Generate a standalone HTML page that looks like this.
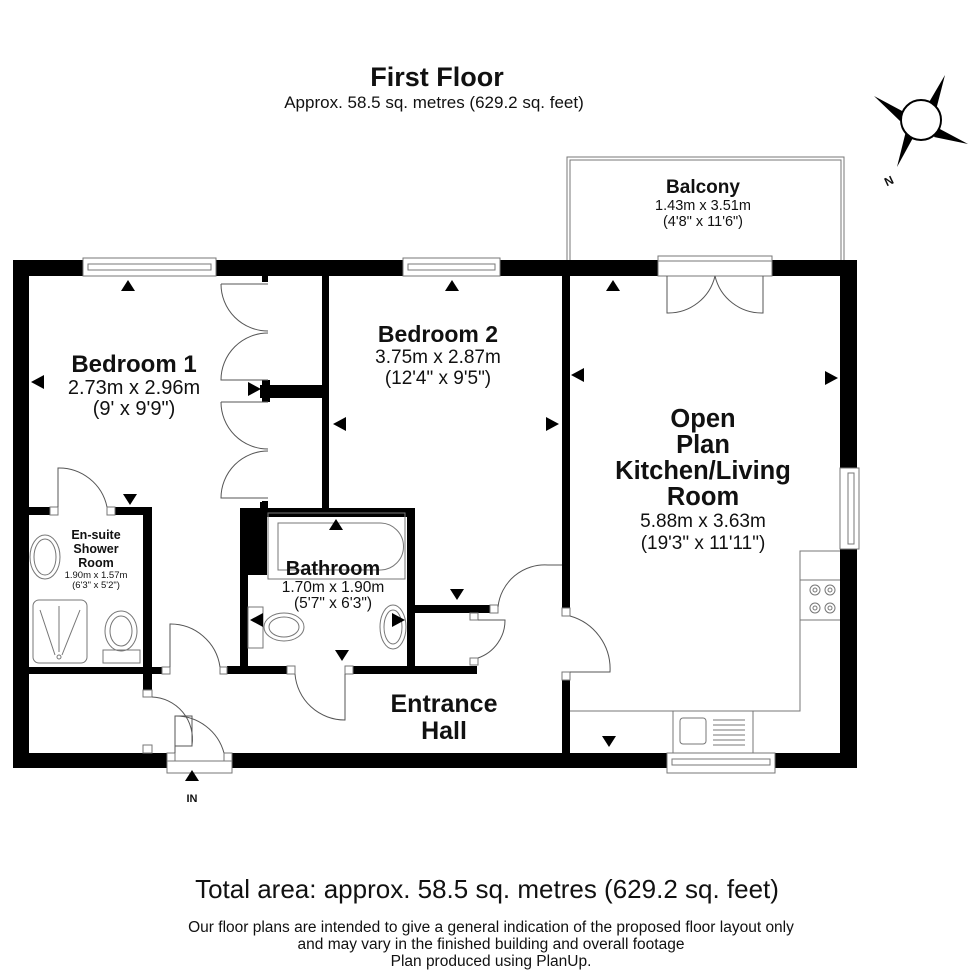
<!DOCTYPE html>
<html><head><meta charset="utf-8"><style>
html,body{margin:0;padding:0;background:#fff}
svg{display:block}
text{font-family:"Liberation Sans",Arial,sans-serif;fill:#111}
.b{font-weight:bold}
.t{fill:none;stroke:#777;stroke-width:1}
.k{fill:none;stroke:#555;stroke-width:1}
</style></head><body>
<svg width="980" height="980" viewBox="0 0 980 980" xmlns="http://www.w3.org/2000/svg">
<text x="437" y="86" font-size="27" class="b" text-anchor="middle">First Floor</text>
<text x="434" y="108" font-size="17" text-anchor="middle">Approx. 58.5 sq. metres (629.2 sq. feet)</text>

<rect x="567" y="157" width="277" height="104" class="t"/>
<rect x="570" y="160" width="271" height="101" class="t"/>

<g fill="#000">
<rect x="13" y="260" width="70" height="16"/>
<rect x="216" y="260" width="187" height="16"/>
<rect x="500" y="260" width="158" height="16"/>
<rect x="772" y="260" width="85" height="16"/>
<rect x="13" y="260" width="16" height="508"/>
<rect x="840" y="260" width="17" height="208"/>
<rect x="840" y="549" width="17" height="219"/>
<rect x="13" y="753" width="154" height="15"/>
<rect x="232" y="753" width="435" height="15"/>
<rect x="775" y="753" width="82" height="15"/>
<rect x="322" y="276" width="7" height="232"/>
<rect x="262" y="276" width="6" height="6"/>
<rect x="260" y="385" width="69" height="13"/>
<rect x="262" y="380" width="8" height="22"/>
<rect x="262" y="501" width="6" height="7"/>
<rect x="562" y="276" width="8" height="332"/>
<rect x="562" y="680" width="8" height="73"/>
<rect x="29" y="507" width="21" height="8"/>
<rect x="115" y="507" width="37" height="8"/>
<rect x="143" y="507" width="9" height="183"/>
<rect x="29" y="667" width="133" height="7"/>
<rect x="240" y="508" width="175" height="9"/>
<rect x="240" y="508" width="27" height="67"/>
<rect x="260" y="502" width="7" height="6"/>
<rect x="240" y="508" width="8" height="166"/>
<rect x="407" y="508" width="8" height="166"/>
<rect x="227" y="666" width="60" height="8"/>
<rect x="353" y="666" width="124" height="8"/>
<rect x="415" y="605" width="75" height="8"/>
</g>

<g class="t">
<rect x="83" y="258" width="133" height="18"/><rect x="88" y="264" width="123" height="6"/>
<rect x="403" y="258" width="97" height="18"/><rect x="408" y="264" width="87" height="6"/>
<rect x="658" y="256" width="114" height="20"/>
<rect x="667" y="753" width="108" height="20"/><rect x="672" y="759" width="98" height="6"/>
<rect x="840" y="468" width="19" height="81"/><rect x="848" y="473" width="6" height="71"/>
<rect x="50" y="507" width="8" height="8"/><rect x="107" y="507" width="8" height="8"/>
<rect x="162" y="667" width="8" height="7"/><rect x="220" y="667" width="7" height="7"/>
<rect x="143" y="690" width="9" height="7"/><rect x="143" y="745" width="9" height="8"/>
<rect x="167" y="753" width="8" height="8"/><rect x="224" y="753" width="8" height="8"/>
<rect x="167" y="761" width="65" height="12"/>
<rect x="287" y="666" width="8" height="8"/><rect x="345" y="666" width="8" height="8"/>
<rect x="490" y="605" width="8" height="8"/>
<rect x="470" y="613" width="8" height="7"/><rect x="470" y="658" width="8" height="7"/>
<rect x="562" y="608" width="8" height="8"/><rect x="562" y="672" width="8" height="8"/>
</g>

<g class="k">
<path d="M221,284 H268 M221,284 A47,47 0 0 0 268,331 M268,333 A47,47 0 0 0 221,380 H268"/>
<path d="M221,402 H268 M221,402 A47,47 0 0 0 268,449 M268,451 A47,47 0 0 0 221,498 H268"/>
<path d="M58,507 V468 A49,49 0 0 1 107,507"/>
<path d="M170,667 V624 A50,50 0 0 1 220,667"/>
<path d="M152,697 A42,42 0 0 1 192,745"/>
<path d="M175,753 V716 A50,50 0 0 1 224,753"/>
<rect x="175" y="716" width="17" height="30"/>
<path d="M295,674 A50,50 0 0 0 345,720 V674"/>
<path d="M478,620 H505 A40,40 0 0 1 478,658"/>
<path d="M498,607 A47,47 0 0 1 548,565 H562"/>
<path d="M570,616 A55,55 0 0 1 610,672 H570"/>
<path d="M667,276 V313 A48,48 0 0 0 715,276 M763,276 V313 A48,48 0 0 1 715,276"/>
</g>

<g class="t">
<rect x="33" y="600" width="54" height="63" rx="6"/>
<path d="M40,610 L55,655 M80,610 L62,655 M59,606 V652"/><circle cx="59" cy="657" r="2"/>
<rect x="103" y="650" width="37" height="13"/>
<ellipse cx="121" cy="631" rx="16" ry="20"/><ellipse cx="121" cy="631" rx="11" ry="15"/>
<ellipse cx="45" cy="557" rx="15" ry="22"/><ellipse cx="45" cy="557" rx="11" ry="18"/>
<rect x="268" y="513" width="137" height="66"/>
<path d="M278,523 H380 A23,23 0 0 1 380,570 H278 Z"/>
<rect x="248" y="607" width="15" height="41"/>
<ellipse cx="284" cy="627" rx="20" ry="14"/><ellipse cx="284" cy="627" rx="15" ry="10"/>
<ellipse cx="393" cy="627" rx="13" ry="22"/><ellipse cx="393" cy="627" rx="9" ry="17"/>
<path d="M570,711 H800 V551 H840 M800,580 H840 M800,620 H840"/>
<circle cx="815" cy="590" r="5"/><circle cx="815" cy="590" r="2"/><circle cx="830" cy="590" r="5"/><circle cx="830" cy="590" r="2"/>
<circle cx="815" cy="608" r="5"/><circle cx="815" cy="608" r="2"/><circle cx="830" cy="608" r="5"/><circle cx="830" cy="608" r="2"/>
<rect x="673" y="711" width="80" height="42"/>
<rect x="680" y="718" width="26" height="26" rx="3"/>
<path d="M713,720 H745 M713,725 H745 M713,730 H745 M713,735 H745 M713,740 H745 M713,745 H745"/>
</g>

<g fill="#000">
<polygon points="121,291 135,291 128,280"/>
<polygon points="31,382 44,375 44,389"/>
<polygon points="248,382 248,396 261,389"/>
<polygon points="123,494 137,494 130,505"/>
<polygon points="445,291 459,291 452,280"/>
<polygon points="333,424 346,417 346,431"/>
<polygon points="546,417 546,431 559,424"/>
<polygon points="329,530 343,530 336,519"/>
<polygon points="250,620 263,613 263,627"/>
<polygon points="392,613 392,627 405,620"/>
<polygon points="335,650 349,650 342,661"/>
<polygon points="450,589 464,589 457,600"/>
<polygon points="606,291 620,291 613,280"/>
<polygon points="571,375 584,368 584,382"/>
<polygon points="825,371 825,385 838,378"/>
<polygon points="602,736 616,736 609,747"/>
<polygon points="185,781 199,781 192,770"/>
</g>

<g>
<polygon points="945,75 928,104 936,110" fill="#000"/>
<polygon points="874,96 904,112 900,121" fill="#000"/>
<polygon points="968,144 938,128 934,137" fill="#000"/>
<polygon points="897,167 914,136 906,131" fill="#000"/>
<circle cx="921" cy="120" r="20" fill="#fff" stroke="#000" stroke-width="2"/>
<text x="889" y="185" font-size="12" class="b" text-anchor="middle" transform="rotate(-25 889 181)">N</text>
</g>

<text x="703" y="193" font-size="19" class="b" text-anchor="middle">Balcony</text>
<text x="703" y="210" font-size="14.5" text-anchor="middle">1.43m x 3.51m</text>
<text x="703" y="226" font-size="14.5" text-anchor="middle">(4'8" x 11'6")</text>

<text x="134" y="372" font-size="24" class="b" text-anchor="middle">Bedroom 1</text>
<text x="134" y="394" font-size="20" text-anchor="middle">2.73m x 2.96m</text>
<text x="134" y="415" font-size="20" text-anchor="middle">(9' x 9'9")</text>

<text x="438" y="342" font-size="23" class="b" text-anchor="middle">Bedroom 2</text>
<text x="438" y="363" font-size="19" text-anchor="middle">3.75m x 2.87m</text>
<text x="438" y="384" font-size="19" text-anchor="middle">(12'4" x 9'5")</text>

<text x="703" y="427" font-size="25.5" class="b" text-anchor="middle">Open</text>
<text x="703" y="453" font-size="25.5" class="b" text-anchor="middle">Plan</text>
<text x="703" y="479" font-size="25.5" class="b" text-anchor="middle">Kitchen/Living</text>
<text x="703" y="505" font-size="25.5" class="b" text-anchor="middle">Room</text>
<text x="703" y="527" font-size="19" text-anchor="middle">5.88m x 3.63m</text>
<text x="703" y="549" font-size="19" text-anchor="middle">(19'3" x 11'11")</text>

<text x="96" y="539" font-size="12.5" class="b" text-anchor="middle">En-suite</text>
<text x="96" y="553" font-size="12.5" class="b" text-anchor="middle">Shower</text>
<text x="96" y="567" font-size="12.5" class="b" text-anchor="middle">Room</text>
<text x="96" y="578" font-size="9.5" text-anchor="middle">1.90m x 1.57m</text>
<text x="96" y="588" font-size="9.5" text-anchor="middle">(6'3" x 5'2")</text>

<text x="333" y="575" font-size="20" class="b" text-anchor="middle">Bathroom</text>
<text x="333" y="592" font-size="15.5" text-anchor="middle">1.70m x 1.90m</text>
<text x="333" y="608" font-size="15.5" text-anchor="middle">(5'7" x 6'3")</text>

<text x="444" y="712" font-size="25" class="b" text-anchor="middle">Entrance</text>
<text x="444" y="739" font-size="25" class="b" text-anchor="middle">Hall</text>

<text x="192" y="802" font-size="11" class="b" text-anchor="middle">IN</text>

<text x="487" y="898" font-size="26" text-anchor="middle">Total area: approx. 58.5 sq. metres (629.2 sq. feet)</text>
<text x="491" y="932" font-size="15.5" text-anchor="middle">Our floor plans are intended to give a general indication of the proposed floor layout only</text>
<text x="491" y="949" font-size="15.5" text-anchor="middle">and may vary  in the finished building and overall footage</text>
<text x="491" y="966" font-size="15.5" text-anchor="middle">Plan produced using PlanUp.</text>
</svg>
</body></html>
